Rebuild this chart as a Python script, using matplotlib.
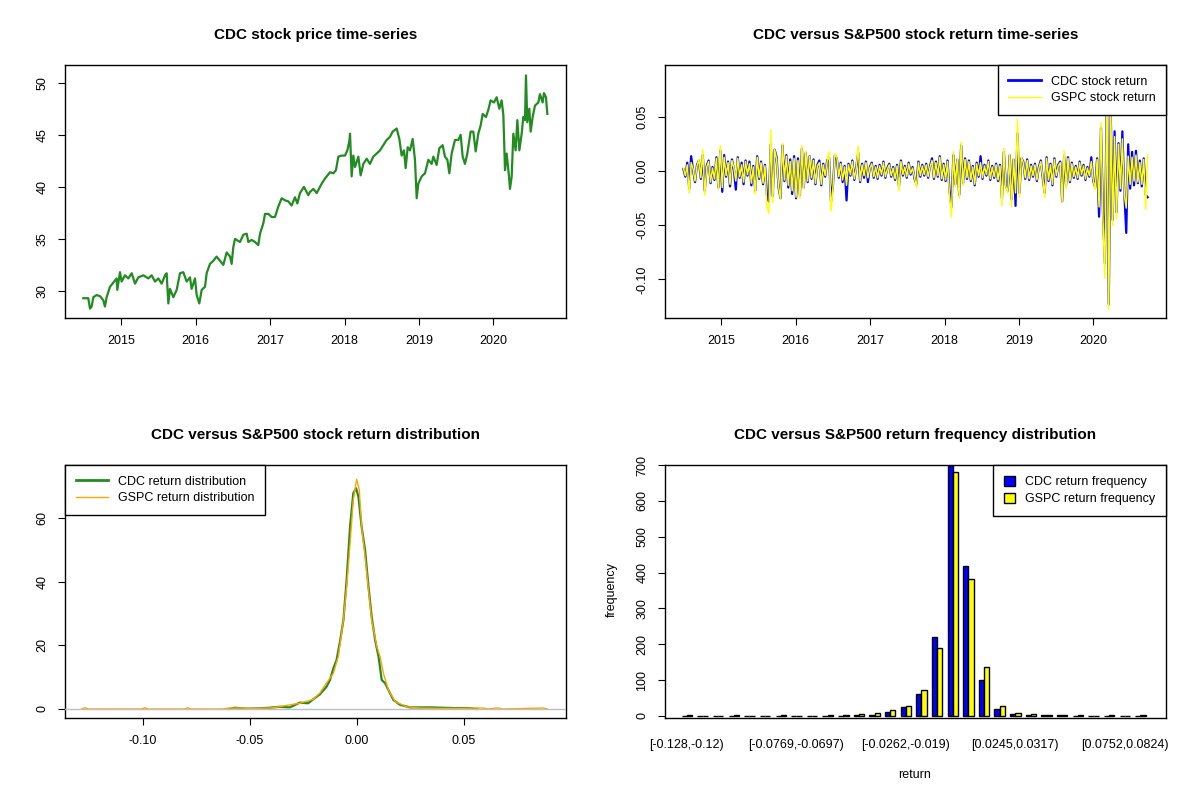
import numpy as np
import matplotlib
matplotlib.use("Agg")
import matplotlib.pyplot as plt
from matplotlib.lines import Line2D
from matplotlib.patches import Patch

plt.rcParams['font.family'] = ['Liberation Sans', 'DejaVu Sans']
plt.rcParams['font.size'] = 9

# --- CDC price (decimal year, price)
price_year = [2014.489, 2014.556, 2014.579, 2014.601, 2014.624, 2014.668, 2014.713, 2014.758,
              2014.780, 2014.803, 2014.848, 2014.892, 2014.937, 2014.946, 2014.982, 2015.004,
              2015.049, 2015.094, 2015.139, 2015.184, 2015.228, 2015.296, 2015.363, 2015.408,
              2015.453, 2015.497, 2015.542, 2015.587, 2015.609, 2015.632, 2015.654, 2015.699,
              2015.744, 2015.789, 2015.833, 2015.878, 2015.923, 2015.945, 2015.990, 2016.013,
              2016.048, 2016.080, 2016.125, 2016.147, 2016.192, 2016.237, 2016.281, 2016.326,
              2016.371, 2016.416, 2016.461, 2016.483, 2016.505, 2016.528, 2016.595, 2016.640,
              2016.685, 2016.707, 2016.752, 2016.797, 2016.841, 2016.864, 2016.909, 2016.931,
              2016.976, 2017.021, 2017.065, 2017.110, 2017.155, 2017.200, 2017.245, 2017.289,
              2017.334, 2017.366, 2017.401, 2017.455, 2017.513,
              2017.536, 2017.581, 2017.626, 2017.693, 2017.738, 2017.805, 2017.850, 2017.885,
              2017.917, 2017.962, 2018.006, 2018.038, 2018.065, 2018.074, 2018.096, 2018.118,
              2018.141, 2018.186, 2018.217, 2018.253, 2018.298, 2018.342, 2018.387, 2018.432,
              2018.477, 2018.522, 2018.566, 2018.611, 2018.647, 2018.701, 2018.737, 2018.768,
              2018.799, 2018.822, 2018.849, 2018.880, 2018.916, 2018.947, 2018.970, 2018.992,
              2019.037, 2019.082, 2019.127, 2019.171, 2019.194, 2019.238, 2019.274, 2019.319,
              2019.350, 2019.382, 2019.409, 2019.440, 2019.485, 2019.530, 2019.561, 2019.588,
              2019.619, 2019.651, 2019.695, 2019.731, 2019.763, 2019.798, 2019.830, 2019.857,
              2019.901, 2019.933, 2019.964, 2020.009, 2020.045, 2020.081, 2020.112, 2020.135,
              2020.157, 2020.179, 2020.211, 2020.224, 2020.247, 2020.269, 2020.300, 2020.323,
              2020.350, 2020.381, 2020.403, 2020.426, 2020.439, 2020.457, 2020.484, 2020.502,
              2020.529, 2020.560, 2020.605, 2020.627, 2020.663, 2020.681, 2020.708, 2020.726]
price = [29.3, 29.3, 28.3, 28.5, 29.4, 29.6, 29.5, 29.1,
         28.5, 29.4, 30.4, 30.8, 31.2, 30.1, 31.8, 30.9,
         31.5, 31.2, 31.7, 30.7, 31.3, 31.5, 31.2, 31.5,
         30.9, 31.2, 30.7, 31.5, 31.7, 28.8, 30.2, 29.4,
         30.1, 31.7, 31.8, 30.9, 31.3, 30.2, 31.2, 29.6,
         28.8, 30.1, 30.4, 31.7, 32.6, 32.9, 33.3, 32.9,
         32.5, 33.7, 33.3, 32.6, 34.2, 35.0, 34.7, 35.4,
         35.5, 34.7, 34.9, 34.7, 34.4, 35.5, 36.5, 37.4,
         37.4, 37.1, 37.1, 38.1, 38.9, 38.7, 38.6, 38.2,
         39.0, 38.4, 39.4, 40.0, 39.2,
         39.5, 39.8, 39.4, 40.3, 40.8, 41.4, 41.3, 41.6,
         42.9, 43.0, 43.0, 43.5, 44.4, 45.1, 41.0, 43.0,
         41.9, 42.9, 41.1, 42.2, 42.7, 42.2, 42.9, 43.2,
         43.5, 44.0, 44.5, 44.8, 45.3, 45.6, 44.6, 43.0,
         43.5, 41.8, 43.8, 43.5, 44.6, 42.6, 38.9, 40.3,
         41.0, 41.3, 42.6, 42.2, 42.9, 42.1, 43.7, 44.0,
         42.9, 42.6, 41.3, 43.2, 44.5, 44.5, 45.0, 42.9,
         42.2, 43.2, 45.3, 45.3, 43.4, 45.1, 45.9, 47.0,
         46.7, 47.4, 48.3, 48.1, 48.6, 47.5, 48.3, 46.9,
         41.6, 43.2, 41.0, 39.8, 41.0, 45.1, 43.5, 46.4,
         43.5, 45.1, 46.7, 46.4, 50.7, 46.2, 47.5, 45.3,
         46.7, 47.8, 48.1, 48.9, 48.1, 49.0, 48.6, 47.0]

# --- log returns in percent, evenly spaced steps from mid 2014 to autumn 2020
cdc_ret_pct = [
    0.2, -0.5, 0.8, -1.6, 1.4, 0.1, -1.0, 0.6, 1.0, -0.7, 1.5, -1.8, 0.5, 1.0, -1.1, 0.4, -0.8, 1.3, -1.5, 1.9,
    -1.9, 1.5, -0.5, 0.9, -1.4, 1.1, 0.2, -1.7, 1.3, -0.6, 0.8, -1.2, 1.0, -0.4, 0.9, -1.3, 0.5, -1.8, 1.4, -0.7,
    0.9, -1.2, 0.6, -2.2, -2.8, 2.5, -2.3, 2.0, 1.3, -1.5, -2.5, 2.4, -0.9, 1.5, -1.5, 1.1, -2.1, 1.4, -2.5, 1.2,
    -2.2, 2.1, -1.5, 1.7, -1.0, 1.4, -0.7, 1.1, -1.2, 0.6, 1.0, -1.3, 0.7, -0.5, 1.0, 1.3, -2.8, -1.3, 1.5, 1.2,
    -0.6, 0.8, -1.0, 0.5, -2.7, 0.7, -0.4, 1.0, -0.8, 0.4, 1.7, -1.0, 0.7, -0.6, 0.9, -1.0, 0.4, 0.8, -0.6, 0.5,
    -0.7, 0.6, -0.4, 0.9, -0.6, 0.3, 0.7, -0.5, 0.4, -0.8, 0.6, -1.4, 1.0, -0.4, 0.5, -0.6, 0.8, -0.3, 0.4, -0.7,
    -1.2, 0.9, -0.5, 0.6, -0.4, 0.7, -0.6, 0.5, 1.2, -0.7, 0.9, -0.5, 1.4, -0.8, 0.7, -0.9, 1.0, -1.8, -3.3, 1.5,
    -1.2, 1.1, -2.2, 2.4, -1.1, 1.2, -0.7, 1.0, -0.9, 0.5, -1.3, 0.8, -0.5, 1.4, -0.7, 0.6, -0.4, 1.0, -0.8, 0.5,
    -0.6, 0.7, -0.9, 0.6, -2.5, 1.8, -1.3, -1.8, 1.5, -2.6, 1.1, -3.2, 3.5, -2.0, 1.2, 0.9, -0.7, 1.1, -0.8, 0.6,
    -0.5, 0.7, -0.9, 0.4, 1.0, -0.6, -2.0, 1.3, -0.9, 0.7, -1.3, 1.2, -0.5, 0.6, 0.9, -2.8, 1.4, -1.3, 1.3, -1.0,
    0.8, -0.6, 0.5, -0.7, 0.9, -0.4, 0.6, -0.8, 0.4, -0.5, 1.3, -0.9, -1.5, 1.2, -4.2, 4.0, -3.8, -8.5, 8.5, -12.3,
    5.5, -4.5, 3.7, -3.8, 2.6, -1.8, 3.7, -2.0, -5.7, 2.5, -1.6, 1.8, -1.3, 1.9, -1.1, 1.0, -1.4, 1.2, -2.2, -2.4]
gspc_ret_pct = [
    0.3, -0.4, 0.6, -2.0, 0.8, 0.2, -0.9, 0.5, 1.1, -0.6, 2.0, -2.2, 0.4, 0.9, -1.0, 0.3, -0.7, 1.2, -1.7, 2.4,
    -1.5, 1.3, -0.4, 0.8, -1.2, 1.0, 0.3, -0.9, 1.2, -0.5, 0.6, -1.0, 0.9, -0.3, 0.7, -1.1, 0.4, -2.1, 1.3, -0.6,
    0.8, -1.1, 0.5, -3.2, -3.9, 3.8, -2.9, 2.0, 1.1, -1.4, -2.6, 2.6, -0.8, 1.4, -1.3, 0.9, -1.8, 1.2, -2.4, 1.0,
    -2.5, 2.4, -1.6, 1.9, -0.9, 1.4, -0.6, 1.0, -1.1, 0.5, 0.8, -1.2, 0.6, -0.4, 0.9, 1.8, -3.7, -1.5, 1.6, 1.3,
    -0.5, 0.7, -0.8, 0.4, -1.3, 0.6, -0.3, 0.9, -0.7, 0.3, 2.3, -0.9, 0.6, -0.4, 0.8, -0.6, 0.3, 0.7, -0.5, 0.4,
    -0.6, 0.5, -0.3, 0.8, -0.5, 0.2, 0.6, -0.4, 0.3, -0.7, 0.5, -1.8, 0.9, -0.3, 0.4, -0.5, 0.7, -0.2, 0.3, -0.6,
    -1.5, 0.8, -0.4, 0.5, -0.3, 0.6, -0.5, 0.4, 1.0, -0.6, 0.8, -0.4, 1.3, -0.7, 0.6, -0.8, 0.9, -2.2, -4.2, 1.8,
    -1.4, 1.2, -2.5, 2.7, -1.3, 1.1, -0.6, 0.9, -0.8, 0.4, -1.2, 0.7, -0.4, 0.8, -0.6, 0.5, -0.3, 0.9, -0.7, 0.4,
    -0.5, 0.6, -0.8, 0.5, -3.2, 2.1, -1.4, -2.0, 1.6, -3.3, 1.2, -2.0, 4.8, -2.4, 1.3, 0.8, -0.6, 1.0, -0.7, 0.5,
    -0.4, 0.6, -0.8, 0.3, 0.9, -0.5, -2.4, 1.2, -0.8, 0.6, -1.2, 1.1, -0.4, 0.5, 0.8, -2.9, 1.9, -1.6, 1.2, -0.9,
    0.7, -0.5, 0.4, -0.6, 0.8, -0.3, 0.5, -0.7, 0.3, -0.4, 0.9, -0.8, -1.7, 1.1, -3.3, 4.5, -4.4, -9.9, 8.97, -12.77,
    6.0, -5.0, 3.2, -4.4, 2.5, -1.6, 3.0, -2.2, -3.4, 1.4, -1.2, 1.3, -0.9, 1.5, -1.0, 0.8, -1.2, 1.1, -3.5, 1.5]
ret_start, ret_end = 2014.49, 2020.73

# --- kernel density estimates
cdc_dens_x = [-0.0594, -0.0571, -0.0516, -0.0454, -0.0407, -0.0360, -0.0313, -0.0266, -0.0227,
              -0.0204, -0.0172, -0.0141, -0.0125, -0.0109, -0.0094, -0.0078, -0.0062, -0.0047,
              -0.0031, -0.0016, -0.0003, 0.0008, 0.0023, 0.0039, 0.0055, 0.0070, 0.0086, 0.0102,
              0.0117, 0.0133, 0.0148, 0.0172, 0.0203, 0.0250, 0.0344, 0.0453, 0.0523, 0.0562]
cdc_dens_y = [0.0, 0.4, 0.1, 0.2, 0.4, 0.7, 0.5, 2.0, 1.8,
              3.0, 4.6, 7.0, 9.1, 12.8, 15.4, 21.2, 28.0, 40.6,
              57.3, 67.8, 69.4, 66.8, 57.3, 50.0, 38.5, 29.0, 21.7, 16.5,
              9.1, 8.1, 6.0, 2.8, 1.3, 0.5, 0.5, 0.3, 0.3, 0.0]
gspc_dens_x = [-0.1285, -0.1270, -0.1255, -0.1005, -0.0990, -0.0975, -0.0805, -0.0790, -0.0775,
               -0.0625, -0.0600, -0.0550, -0.0500, -0.0454, -0.0391, -0.0313, -0.0266, -0.0204,
               -0.0172, -0.0156, -0.0109, -0.0086, -0.0062, -0.0047, -0.0031, -0.0016, 0.0000,
               0.0012, 0.0023, 0.0039, 0.0055, 0.0070, 0.0094, 0.0109, 0.0125, 0.0148, 0.0180,
               0.0234, 0.0297, 0.0390, 0.0480, 0.0560, 0.0590, 0.0620, 0.0650, 0.0665, 0.0680,
               0.0860, 0.0875, 0.0890]
gspc_dens_y = [0.0, 0.4, 0.0, 0.0, 0.4, 0.0, 0.0, 0.4, 0.0,
               0.0, 0.3, 0.3, 0.2, 0.2, 0.4, 1.3, 1.8, 3.0,
               5.0, 6.7, 11.2, 16.5, 28.0, 38.5, 52.0, 65.7, 72.2,
               68.9, 57.3, 47.9, 37.4, 28.0, 19.6, 16.5, 11.2, 6.0, 2.3,
               0.7, 0.3, 0.2, 0.2, 0.3, 0.3, 0.0, 0.3, 0.3, 0.0,
               0.3, 0.3, 0.0]

# --- histogram counts, 30 bins of width ~0.0072 starting at -0.128
cdc_freq = [1, 0, 0, 1, 0, 0, 0, 1, 0, 1, 1, 2, 3, 10, 24,
            60, 221, 700, 417, 100, 19, 6, 2, 2, 2, 1, 0, 1, 0, 1]
gspc_freq = [2, 1, 0, 2, 0, 0, 2, 1, 0, 2, 2, 5, 8, 16, 27,
             72, 191, 680, 381, 136, 27, 9, 5, 2, 2, 2, 0, 2, 0, 2]
bin_labels = {0: "[-0.128,-0.12)", 7: "[-0.0769,-0.0697)", 14: "[-0.0262,-0.019)",
              21: "[0.0245,0.0317)", 28: "[0.0752,0.0824)"}

GREEN = "#228B22"
W, H = 1200, 800


def frame(left, top):
    ax = fig.add_axes([left / W, 1 - (top + 253) / H, 501 / W, 253 / H])
    for s in ax.spines.values():
        s.set_linewidth(1.0)
    ax.tick_params(direction="out", length=5, width=0.8, pad=7, labelsize=9)
    ax.tick_params(axis="y", labelrotation=90)
    return ax


def center_y(ax):
    for lab in ax.get_yticklabels():
        lab.set_va("center")


def rtitle(ax, text):
    ax.set_title(text, fontsize=11, fontweight="bold", pad=19)


def rlegend(ax, handles, labels, loc, **kw):
    leg = ax.legend(handles, labels, loc=loc, fancybox=False, framealpha=1,
                    edgecolor="black", borderaxespad=0, fontsize=9,
                    borderpad=0.85, labelspacing=0.35, **kw)
    leg.get_frame().set_linewidth(1.0)
    leg.set_zorder(10)
    return leg


fig = plt.figure(figsize=(12, 8), dpi=100)

# top left: price
ax1 = frame(65, 65)
ax1.plot(price_year, price, color=GREEN, lw=1.6)
ax1.set_xlim(2014.243, 2020.977)
ax1.set_ylim(27.4, 51.7)
ax1.set_xticks(range(2015, 2021))
ax1.set_yticks([30, 35, 40, 45, 50])
center_y(ax1)
rtitle(ax1, "CDC stock price time-series")

# top right: returns
ax2 = frame(665, 65)
ret_x = np.linspace(ret_start, ret_end, len(cdc_ret_pct))
ax2.plot(ret_x, np.array(cdc_ret_pct) / 100, color="blue", lw=1.6)
ax2.plot(ret_x, np.array(gspc_ret_pct) / 100, color="yellow", lw=1.1)
ax2.set_xlim(2014.243, 2020.977)
ax2.set_ylim(-0.1358, 0.0984)
ax2.set_xticks(range(2015, 2021))
ax2.set_yticks([-0.10, -0.05, 0.0, 0.05])
ax2.set_yticklabels(["-0.10", "-0.05", "0.00", "0.05"])
center_y(ax2)
rtitle(ax2, "CDC versus S&P500 stock return time-series")
rlegend(ax2, [Line2D([], [], color="blue", lw=2), Line2D([], [], color="yellow", lw=1)],
        ["CDC stock return", "GSPC stock return"], "upper right", handlelength=2.6)

# bottom left: densities
ax3 = frame(65, 465)
ax3.plot(cdc_dens_x, cdc_dens_y, color=GREEN, lw=1.6, zorder=2)
ax3.plot(gspc_dens_x, gspc_dens_y, color="orange", lw=1, zorder=3)
ax3.axhline(0, color="#BEBEBE", lw=1, zorder=4)
ax3.set_xlim(-0.1363, 0.0978)
ax3.set_ylim(-2.83, 76.7)
ax3.set_xticks([-0.10, -0.05, 0.0, 0.05])
ax3.set_xticklabels(["-0.10", "-0.05", "0.00", "0.05"])
ax3.set_yticks([0, 20, 40, 60])
center_y(ax3)
rtitle(ax3, "CDC versus S&P500 stock return distribution")
rlegend(ax3, [Line2D([], [], color=GREEN, lw=2), Line2D([], [], color="orange", lw=1)],
        ["CDC return distribution", "GSPC return distribution"], "upper left", handlelength=2.6)

# bottom right: frequency bars
ax4 = frame(665, 465)
groups = np.arange(len(cdc_freq))
ax4.bar(3 * groups + 1.5, cdc_freq, width=1, color="blue", edgecolor="black", lw=1)
ax4.bar(3 * groups + 2.5, gspc_freq, width=1, color="yellow", edgecolor="black", lw=1)
ax4.set_xlim(-2.2, 93.9)
ax4.set_ylim(-5.6, 700)
ax4.set_yticks(range(0, 701, 100))
center_y(ax4)
ax4.set_xticks([3 * g + 2 for g in bin_labels])
ax4.set_xticklabels(list(bin_labels.values()))
ax4.tick_params(axis="x", length=0, pad=15)
rtitle(ax4, "CDC versus S&P500 return frequency distribution")
fig.text(915 / W, 1 - 775 / H, "return", ha="center", va="center", fontsize=9)
fig.text(612 / W, 1 - 590 / H, "frequency", ha="center", va="center", fontsize=9, rotation=90)
rlegend(ax4, [Patch(facecolor="blue", edgecolor="black"), Patch(facecolor="yellow", edgecolor="black")],
        ["CDC return frequency", "GSPC return frequency"], "upper right",
        handlelength=0.9, handleheight=0.9)

fig.savefig("out.png", dpi=100)
